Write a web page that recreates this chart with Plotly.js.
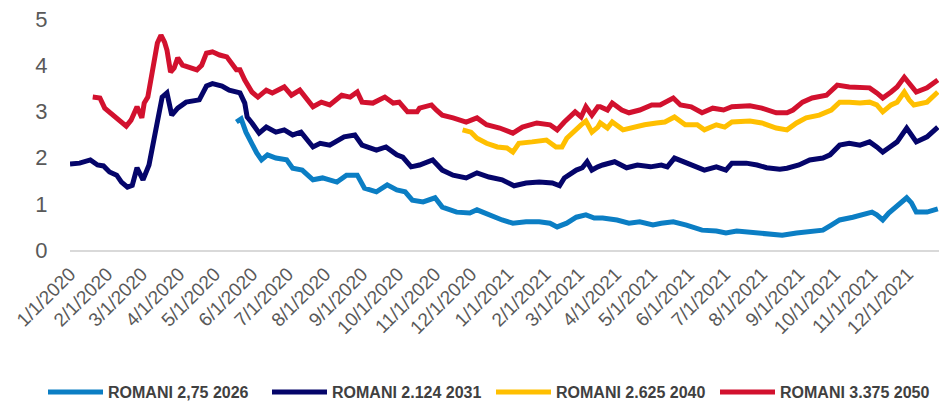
<!DOCTYPE html>
<html>
<head>
<meta charset="utf-8">
<script src="https://cdn.plot.ly/plotly-3.0.1.min.js"></script>
<style>html,body{margin:0;padding:0;background:#fff;overflow:hidden;width:939px;height:401px;}#chart{width:939px;height:410px;}</style>
</head>
<body>
<div id="chart"></div>
<script>
// ROMANI 2,75 2026
var dates2026 = ['2020-05-19','2020-05-23','2020-05-27','2020-06-01','2020-06-05','2020-06-09','2020-06-14','2020-06-21','2020-06-30','2020-07-05','2020-07-13','2020-07-22','2020-07-30','2020-08-11','2020-08-19','2020-08-28','2020-09-03','2020-09-13','2020-09-22','2020-09-30','2020-10-07','2020-10-13','2020-10-22','2020-11-01','2020-11-07','2020-11-19','2020-11-30','2020-12-06','2020-12-16','2020-12-27','2021-01-05','2021-01-16','2021-01-27','2021-02-05','2021-02-11','2021-02-19','2021-02-27','2021-03-07','2021-03-14','2021-03-21','2021-04-02','2021-04-12','2021-04-21','2021-05-02','2021-05-09','2021-05-19','2021-05-30','2021-06-08','2021-06-12','2021-06-24','2021-07-02','2021-07-11','2021-07-22','2021-08-05','2021-08-18','2021-08-30','2021-09-10','2021-09-21','2021-09-28','2021-10-05','2021-10-16','2021-10-24','2021-11-01','2021-11-05','2021-11-10','2021-11-15','2021-11-21','2021-11-30','2021-12-04','2021-12-08','2021-12-17','2021-12-25','2021-12-26'];
var vals2026 = [2.77,2.84,2.55,2.27,2.10,1.95,2.06,1.99,1.95,1.77,1.73,1.52,1.56,1.47,1.62,1.62,1.34,1.26,1.41,1.30,1.26,1.08,1.04,1.13,0.93,0.82,0.80,0.87,0.76,0.65,0.58,0.61,0.61,0.58,0.50,0.58,0.71,0.76,0.69,0.69,0.65,0.58,0.61,0.54,0.58,0.61,0.54,0.48,0.43,0.41,0.37,0.41,0.39,0.37,0.32,0.37,0.39,0.43,0.54,0.65,0.71,0.76,0.82,0.76,0.65,0.80,0.93,1.13,1.02,0.82,0.82,0.89,0.89];

// ROMANI 2.124 2031
var dates2031 = ['2020-01-01','2020-01-09','2020-01-18','2020-01-24','2020-01-29','2020-02-03','2020-02-09','2020-02-13','2020-02-18','2020-02-22','2020-02-26','2020-03-02','2020-03-07','2020-03-10','2020-03-14','2020-03-18','2020-03-22','2020-03-26','2020-03-31','2020-04-07','2020-04-18','2020-04-24','2020-04-29','2020-05-07','2020-05-13','2020-05-19','2020-05-22','2020-05-26','2020-05-28','2020-06-01','2020-06-07','2020-06-13','2020-06-21','2020-06-28','2020-07-05','2020-07-12','2020-07-22','2020-07-28','2020-08-05','2020-08-17','2020-08-26','2020-09-01','2020-09-13','2020-09-21','2020-09-30','2020-10-05','2020-10-12','2020-10-19','2020-10-30','2020-11-07','2020-11-16','2020-11-27','2020-12-06','2020-12-16','2020-12-27','2021-01-06','2021-01-16','2021-01-27','2021-02-07','2021-02-13','2021-02-17','2021-02-27','2021-03-04','2021-03-08','2021-03-12','2021-03-17','2021-03-21','2021-03-31','2021-04-10','2021-04-19','2021-04-30','2021-05-09','2021-05-14','2021-05-20','2021-05-27','2021-06-04','2021-06-14','2021-06-24','2021-07-02','2021-07-07','2021-07-19','2021-07-28','2021-08-05','2021-08-16','2021-08-22','2021-09-01','2021-09-10','2021-09-21','2021-09-27','2021-10-05','2021-10-13','2021-10-22','2021-10-30','2021-11-05','2021-11-10','2021-11-16','2021-11-22','2021-11-30','2021-12-04','2021-12-08','2021-12-17','2021-12-25','2021-12-26'];
var vals2031 = [1.86,1.88,1.95,1.84,1.82,1.69,1.62,1.47,1.36,1.40,1.78,1.52,1.84,2.27,2.70,3.31,3.40,2.92,3.07,3.20,3.25,3.55,3.60,3.55,3.46,3.42,3.40,3.18,2.88,2.75,2.53,2.66,2.55,2.60,2.49,2.55,2.23,2.31,2.27,2.45,2.49,2.27,2.16,2.23,2.06,2.01,1.80,1.84,1.95,1.73,1.62,1.56,1.67,1.58,1.52,1.39,1.45,1.47,1.45,1.39,1.56,1.73,1.78,1.91,1.73,1.80,1.84,1.91,1.78,1.84,1.80,1.84,1.80,1.99,1.91,1.84,1.73,1.80,1.73,1.88,1.88,1.84,1.78,1.75,1.77,1.84,1.95,1.99,2.06,2.27,2.31,2.27,2.34,2.23,2.12,2.23,2.34,2.64,2.49,2.34,2.45,2.64,2.66];

// ROMANI 2.625 2040
var dates2040 = ['2020-11-24','2020-12-01','2020-12-06','2020-12-14','2020-12-23','2020-12-31','2021-01-05','2021-01-10','2021-01-21','2021-02-02','2021-02-10','2021-02-15','2021-02-19','2021-02-26','2021-03-03','2021-03-07','2021-03-12','2021-03-17','2021-03-19','2021-03-25','2021-03-29','2021-04-07','2021-04-15','2021-04-25','2021-05-05','2021-05-12','2021-05-20','2021-05-29','2021-06-08','2021-06-14','2021-06-24','2021-07-01','2021-07-07','2021-07-22','2021-08-01','2021-08-13','2021-08-22','2021-08-30','2021-09-07','2021-09-18','2021-09-28','2021-10-05','2021-10-13','2021-10-22','2021-10-30','2021-11-05','2021-11-10','2021-11-17','2021-11-22','2021-11-28','2021-12-02','2021-12-06','2021-12-17','2021-12-25','2021-12-26'];
var vals2040 = [2.60,2.55,2.42,2.31,2.23,2.21,2.12,2.31,2.34,2.38,2.23,2.23,2.42,2.60,2.71,2.79,2.55,2.66,2.75,2.64,2.77,2.60,2.66,2.71,2.75,2.77,2.88,2.71,2.71,2.60,2.71,2.66,2.77,2.79,2.75,2.64,2.60,2.75,2.86,2.92,3.03,3.20,3.20,3.18,3.20,3.14,2.99,3.14,3.20,3.42,3.25,3.14,3.20,3.40,3.42];

// ROMANI 3.375 2050
var dates2050 = ['2020-01-20','2020-01-26','2020-01-30','2020-02-03','2020-02-07','2020-02-13','2020-02-17','2020-02-21','2020-02-26','2020-03-01','2020-03-03','2020-03-06','2020-03-09','2020-03-12','2020-03-14','2020-03-17','2020-03-20','2020-03-22','2020-03-25','2020-03-28','2020-03-31','2020-04-04','2020-04-10','2020-04-16','2020-04-20','2020-04-24','2020-04-29','2020-05-05','2020-05-11','2020-05-15','2020-05-19','2020-05-22','2020-05-26','2020-06-01','2020-06-06','2020-06-13','2020-06-18','2020-06-28','2020-07-04','2020-07-11','2020-07-22','2020-07-29','2020-08-05','2020-08-15','2020-08-22','2020-08-28','2020-09-01','2020-09-10','2020-09-20','2020-09-27','2020-10-02','2020-10-09','2020-10-17','2020-10-19','2020-10-29','2020-11-02','2020-11-07','2020-11-16','2020-11-27','2020-12-06','2020-12-14','2020-12-25','2021-01-05','2021-01-13','2021-01-25','2021-02-05','2021-02-11','2021-02-17','2021-02-26','2021-03-03','2021-03-07','2021-03-12','2021-03-17','2021-03-19','2021-03-25','2021-03-29','2021-04-06','2021-04-12','2021-04-21','2021-05-01','2021-05-08','2021-05-19','2021-05-25','2021-06-03','2021-06-12','2021-06-21','2021-06-30','2021-07-07','2021-07-22','2021-08-01','2021-08-13','2021-08-22','2021-08-27','2021-09-04','2021-09-12','2021-09-24','2021-10-03','2021-10-13','2021-10-22','2021-10-30','2021-11-05','2021-11-10','2021-11-17','2021-11-22','2021-11-28','2021-12-02','2021-12-08','2021-12-17','2021-12-25','2021-12-26'];
var vals2050 = [3.31,3.29,3.07,2.99,2.88,2.77,2.68,2.81,3.10,2.86,3.18,3.31,3.79,4.11,4.48,4.65,4.50,4.33,3.85,3.94,4.16,4.00,3.94,3.90,4.00,4.26,4.29,4.22,4.18,4.05,3.90,3.90,3.68,3.42,3.31,3.46,3.40,3.53,3.35,3.46,3.10,3.20,3.14,3.35,3.31,3.42,3.20,3.18,3.31,3.18,3.20,2.99,2.99,3.07,3.14,3.03,2.92,2.86,2.77,2.86,2.71,2.64,2.53,2.66,2.75,2.71,2.60,2.77,2.99,2.88,3.10,2.92,3.10,3.10,3.03,3.18,3.03,2.97,3.03,3.14,3.14,3.29,3.14,3.10,2.97,3.07,3.03,3.10,3.12,3.07,2.97,2.97,3.03,3.20,3.29,3.35,3.57,3.53,3.53,3.51,3.40,3.29,3.42,3.53,3.74,3.61,3.42,3.51,3.66,3.68];

var seriesNames = ['ROMANI 2,75 2026','ROMANI 2.124 2031','ROMANI 2.625 2040','ROMANI 3.375 2050'];
var seriesColors = ['#0B7EC4','#05056A','#FFBF00','#D2112E'];
var seriesDates = [dates2026, dates2031, dates2040, dates2050];
var seriesVals = [vals2026, vals2031, vals2040, vals2050];

var FONT = 'Liberation Sans, Arial, sans-serif';
var traces = seriesNames.map(function(n, i){
  return {
    type: 'scatter', mode: 'lines', name: n,
    x: seriesDates[i], y: seriesVals[i],
    line: {color: seriesColors[i], width: 5, shape: 'linear'}
  };
});

var layout = {
  width: 939, height: 410,
  margin: {l: 70, r: 0, t: 19, b: 160},
  paper_bgcolor: '#ffffff', plot_bgcolor: '#ffffff',
  showlegend: true,
  font: {family: FONT, color: '#595959'},
  xaxis: {
    type: 'date',
    range: ['2020-01-01', '2021-12-27'],
    tick0: '2020-01-01', dtick: 'M1',
    tickformat: '%-m/%-d/%Y',
    tickangle: -45,
    tickfont: {family: FONT, size: 19, color: '#595959'},
    ticklabelstandoff: 4,
    showgrid: false, zeroline: false,
    showline: true, linecolor: '#D9D9D9', linewidth: 1.5,
    ticks: '', fixedrange: true
  },
  yaxis: {
    range: [0, 5], dtick: 1, tick0: 0,
    tickfont: {family: FONT, size: 22, color: '#595959'},
    showgrid: false, zeroline: false, showline: false,
    ticks: 'outside', ticklen: 17, tickcolor: 'rgba(0,0,0,0)',
    fixedrange: true
  },
  legend: {
    orientation: 'h', x: -0.0243, xanchor: 'left', y: -0.615, yanchor: 'middle',
    font: {family: FONT, size: 16, color: '#404040', weight: 'bold'},
    itemwidth: 55, entrywidth: 154, bgcolor: 'rgba(0,0,0,0)'
  }
};

Plotly.newPlot('chart', traces, layout, {displayModeBar: false, staticPlot: true});
</script>
</body>
</html>
